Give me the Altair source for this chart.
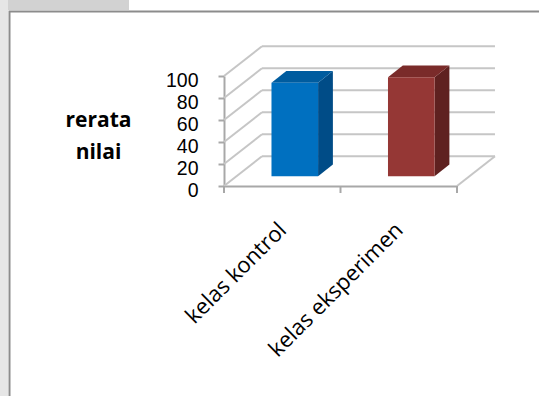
import altair as alt
import pandas as pd

# ---- data ----
categories = ["kelas kontrol", "kelas eksperimen"]
values = [85, 90]
front_colors = ["#0070C0", "#953735"]
side_colors = ["#004C87", "#5F2120"]
top_colors = ["#005C9F", "#7A2B2A"]
y_ticks = [0, 20, 40, 60, 80, 100]
y_title = ["rerata", "nilai"]

# ---- 3-D styling (axis units) ----
N = len(categories)
DX = 0.326      # depth shift along x (category units)
DY = 27.0       # depth shift along y (value units)
F1, F2 = 0.33, 0.72   # bar front / back depth fractions
HALF = 0.2      # half bar width
GRID = "#C6C6C6"
AXC = "#A8A8A8"
FONT = "Open Sans"

bars = pd.DataFrame({"cat": categories, "value": values,
                     "front": front_colors, "side": side_colors, "top": top_colors})
bars["pos"] = bars.index + 0.5

front = bars.assign(x1=bars["pos"] - HALF + F1 * DX, x2=bars["pos"] + HALF + F1 * DX,
                    y1=F1 * DY, y2=bars["value"] + F1 * DY)

side_rows, top_rows = [], []
for _, r in bars.iterrows():
    for f in (F1, F2):
        side_rows.append({"cat": r["cat"], "color": r["side"], "x": r["pos"] + HALF + f * DX,
                          "ylo": f * DY, "yhi": r["value"] + f * DY})
        top_rows.append({"cat": r["cat"], "color": r["top"], "y": r["value"] + f * DY,
                         "xl": r["pos"] - HALF + f * DX, "xr": r["pos"] + HALF + f * DX})
side = pd.DataFrame(side_rows)
top = pd.DataFrame(top_rows)

grid = pd.DataFrame({"t": y_ticks})
back = grid.assign(xa=DX, xb=N + DX, yb=grid["t"] + DY)
wall = grid.assign(xa=0.0, xb=DX, ya=grid["t"].astype(float), yb=grid["t"] + DY)
floor = pd.DataFrame({"xa": [float(N)], "xb": [N + DX], "ya": [0.0], "yb": [DY]})
bounds = pd.DataFrame({"b": list(range(N + 1))})

xs = alt.Scale(domain=[0, N], nice=False, zero=False)
ys = alt.Scale(domain=[0, 100], nice=False, zero=False)

label_expr = "[" + ",".join("'%s'" % c for c in categories) + "][floor(datum.value)]"

x_axis = alt.Axis(values=[i + 0.5 for i in range(N)], labelExpr=label_expr, ticks=False,
                  domain=True, domainColor=AXC, domainWidth=2, grid=False, title=None,
                  labelAngle=315, labelAlign="right", labelBaseline="middle",
                  labelPadding=40, labelFont=FONT, labelFontSize=22, labelColor="#000000",
                  labelOverlap=False, labelFlush=False, labelBound=False)
y_axis = alt.Axis(values=y_ticks, tickSize=6, tickColor=AXC, tickWidth=2,
                  domain=True, domainColor=AXC, domainWidth=2, grid=False,
                  labelFont="Liberation Sans", labelFontSize=19.5, labelColor="#000000",
                  labelPadding=20, labelOffset=4, labelOverlap=False, labelFlush=False,
                  title=y_title, titleAngle=0, titleFont=FONT, titleFontSize=21,
                  titleFontWeight="bold", titleColor="#000000", titleAlign="center",
                  titleBaseline="alphabetic", titleX=-126, titleY=50, titleLineHeight=32)

X = lambda f: alt.X(f, scale=xs, axis=x_axis)
Y = lambda f: alt.Y(f, scale=ys, axis=y_axis)

# decorative page frame (pixels relative to plot origin)
page_strip = alt.Chart(pd.DataFrame({"k": [0]})).mark_rect(color="#D2D2D2").encode(
    x=alt.value(-224), x2=alt.value(-95), y=alt.value(-76), y2=alt.value(-66))
left_strip = alt.Chart(pd.DataFrame({"k": [0]})).mark_rect(color="#E6E6E6").encode(
    x=alt.value(-224), x2=alt.value(-216), y=alt.value(-76), y2=alt.value(320))
frame = alt.Chart(pd.DataFrame({"k": [0]})).mark_rect(
    fillOpacity=0, stroke="#8C8C8C", strokeWidth=2).encode(
    x=alt.value(-214.5), x2=alt.value(330), y=alt.value(-64.5), y2=alt.value(330))

back_layer = alt.Chart(back).mark_rule(color=GRID, strokeWidth=2).encode(
    x=X("xa:Q"), x2="xb:Q", y=Y("yb:Q"))
wall_layer = alt.Chart(wall).mark_rule(color=GRID, strokeWidth=2).encode(
    x=X("xa:Q"), x2="xb:Q", y=Y("ya:Q"), y2="yb:Q")
floor_layer = alt.Chart(floor).mark_rule(color=GRID, strokeWidth=2).encode(
    x=X("xa:Q"), x2="xb:Q", y=Y("ya:Q"), y2="yb:Q")
tick_layer = alt.Chart(bounds).mark_rule(color=AXC, strokeWidth=2, y2Offset=7).encode(
    x=X("b:Q"), y=alt.datum(0, scale=ys, axis=y_axis), y2=alt.datum(0))

side_layer = alt.Chart(side).mark_area(orient="vertical", opacity=1).encode(
    x=X("x:Q"), y=Y("yhi:Q"), y2="ylo:Q",
    detail="cat:N", color=alt.Color("color:N", scale=None))
top_layer = alt.Chart(top).mark_area(orient="horizontal", opacity=1).encode(
    y=Y("y:Q"), x=X("xl:Q"), x2="xr:Q",
    detail="cat:N", color=alt.Color("color:N", scale=None))
front_layer = alt.Chart(front).mark_rect().encode(
    x=X("x1:Q"), x2="x2:Q", y=Y("y1:Q"), y2="y2:Q",
    color=alt.Color("front:N", scale=None))

chart = alt.layer(
    page_strip, left_strip, frame, back_layer, wall_layer, floor_layer, tick_layer,
    side_layer, top_layer, front_layer
).properties(
    width=233, height=110,
    autosize=alt.AutoSizeParams(type="none"),
    padding={"left": 224, "top": 76, "right": 82, "bottom": 210},
    background="#FFFFFF",
).configure(font=FONT).configure_view(strokeWidth=0, stroke=None)

chart.save("out.html", embed_options={"renderer": "svg", "actions": False})
